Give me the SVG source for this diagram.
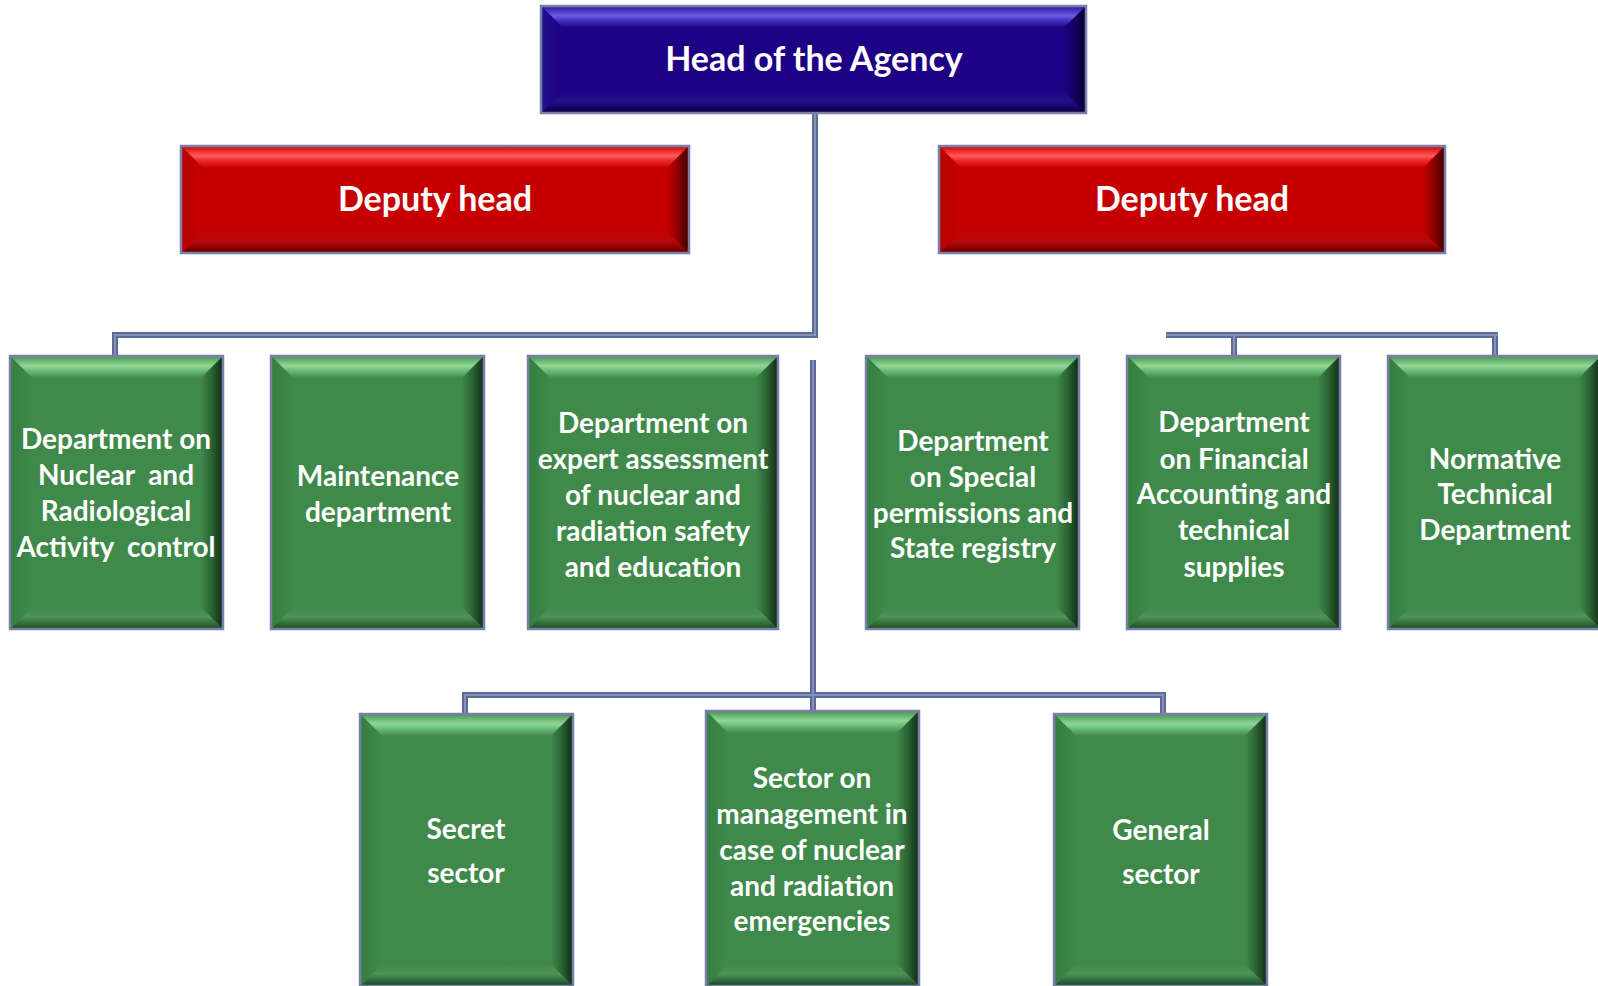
<svg xmlns="http://www.w3.org/2000/svg" width="1598" height="986" viewBox="0 0 1598 986">
<defs>
<linearGradient id="gTopG" x1="0" y1="0" x2="0" y2="1"><stop offset="0" stop-color="#4A944F"/><stop offset="0.45" stop-color="#8FD898"/><stop offset="0.65" stop-color="#6DBE78"/><stop offset="1" stop-color="#42894C"/></linearGradient>
<linearGradient id="gBotG" x1="0" y1="0" x2="0" y2="1"><stop offset="0" stop-color="#3F894A"/><stop offset="0.45" stop-color="#4E9259"/><stop offset="0.8" stop-color="#2C6534"/><stop offset="1" stop-color="#1B3F21"/></linearGradient>
<linearGradient id="gLeftG" x1="0" y1="0" x2="1" y2="0"><stop offset="0" stop-color="#347E3F"/><stop offset="1" stop-color="#3F894A"/></linearGradient>
<linearGradient id="gRightG" x1="0" y1="0" x2="1" y2="0"><stop offset="0" stop-color="#3F894A"/><stop offset="0.5" stop-color="#2A6232"/><stop offset="1" stop-color="#102A15"/></linearGradient>
<linearGradient id="gTopR" x1="0" y1="0" x2="0" y2="1"><stop offset="0" stop-color="#D20000"/><stop offset="0.45" stop-color="#FF5A5A"/><stop offset="0.65" stop-color="#F02A2A"/><stop offset="1" stop-color="#C80000"/></linearGradient>
<linearGradient id="gBotR" x1="0" y1="0" x2="0" y2="1"><stop offset="0" stop-color="#C60000"/><stop offset="0.45" stop-color="#B50A0A"/><stop offset="0.8" stop-color="#8A0000"/><stop offset="1" stop-color="#550000"/></linearGradient>
<linearGradient id="gLeftR" x1="0" y1="0" x2="1" y2="0"><stop offset="0" stop-color="#B80000"/><stop offset="1" stop-color="#C80000"/></linearGradient>
<linearGradient id="gRightR" x1="0" y1="0" x2="1" y2="0"><stop offset="0" stop-color="#C40000"/><stop offset="0.5" stop-color="#8C0000"/><stop offset="1" stop-color="#3E0000"/></linearGradient>
<linearGradient id="gTopB" x1="0" y1="0" x2="0" y2="1"><stop offset="0" stop-color="#2A149A"/><stop offset="0.45" stop-color="#6A5BE6"/><stop offset="0.65" stop-color="#4632C0"/><stop offset="1" stop-color="#1E0086"/></linearGradient>
<linearGradient id="gBotB" x1="0" y1="0" x2="0" y2="1"><stop offset="0" stop-color="#1E0084"/><stop offset="0.45" stop-color="#24108A"/><stop offset="0.8" stop-color="#130060"/><stop offset="1" stop-color="#0A0038"/></linearGradient>
<linearGradient id="gLeftB" x1="0" y1="0" x2="1" y2="0"><stop offset="0" stop-color="#22108E"/><stop offset="1" stop-color="#1E0084"/></linearGradient>
<linearGradient id="gRightB" x1="0" y1="0" x2="1" y2="0"><stop offset="0" stop-color="#1E0084"/><stop offset="0.5" stop-color="#140060"/><stop offset="1" stop-color="#070030"/></linearGradient>
<style>
.bg{fill:#3F894A}.br{fill:#C60000}.bb{fill:#1E0084}
.tg{fill:url(#gTopG)}.og{fill:url(#gBotG)}.lg{fill:url(#gLeftG)}.rg{fill:url(#gRightG)}
.tr{fill:url(#gTopR)}.or{fill:url(#gBotR)}.lr{fill:url(#gLeftR)}.rr{fill:url(#gRightR)}
.tb{fill:url(#gTopB)}.ob{fill:url(#gBotB)}.lb{fill:url(#gLeftB)}.rb{fill:url(#gRightB)}
.edge{fill:none;stroke:#7880AA;stroke-width:2.5}
.lab{font-family:Lato,"Liberation Sans",sans-serif;font-weight:bold;fill:#FFFFFF;text-anchor:middle;white-space:pre}
.big{font-size:34px}
.mid{font-size:28px}
.co{fill:none;stroke:#5E6A98;stroke-width:6;stroke-linejoin:miter}
.ci{fill:none;stroke:#8591BB;stroke-width:2;stroke-linejoin:miter}
</style>
</defs>
<rect width="1598" height="986" fill="#FFFFFF"/>

<g id="connectors">
<path class="co" d="M815 113 V335 H115 V356"/>
<path class="co" d="M813 360 V695 M465 714 V695 H1163 V714 M813 695 V711"/>
<path class="co" d="M1166 335 H1498 M1234 335 V356 M1495 335 V356"/>
<path class="ci" d="M815 113 V335 H115 V356"/>
<path class="ci" d="M813 360 V695 M465 714 V695 H1163 V714 M813 695 V711"/>
<path class="ci" d="M1166 335 H1498 M1234 335 V356 M1495 335 V356"/>
</g>

<g id="head">
<rect class="bb" x="541" y="6" width="545" height="107"/>
<polygon class="tb" points="541,6 1086,6 1064,28 563,28"/>
<polygon class="ob" points="541,113 1086,113 1064,91 563,91"/>
<polygon class="lb" points="541,6 563,28 563,91 541,113"/>
<polygon class="rb" points="1086,6 1064,28 1064,91 1086,113"/>
<rect class="edge" x="541" y="6" width="545" height="107"/>
<text class="lab big" x="814" y="71">Head of the Agency</text>
</g>

<g id="deputy-left">
<rect class="br" x="181" y="146" width="508" height="107"/>
<polygon class="tr" points="181,146 689,146 667,168 203,168"/>
<polygon class="or" points="181,253 689,253 667,231 203,231"/>
<polygon class="lr" points="181,146 203,168 203,231 181,253"/>
<polygon class="rr" points="689,146 667,168 667,231 689,253"/>
<rect class="edge" x="181" y="146" width="508" height="107"/>
<text class="lab big" x="435" y="211">Deputy head</text>
</g>

<g id="deputy-right">
<rect class="br" x="939" y="146" width="506" height="107"/>
<polygon class="tr" points="939,146 1445,146 1423,168 961,168"/>
<polygon class="or" points="939,253 1445,253 1423,231 961,231"/>
<polygon class="lr" points="939,146 961,168 961,231 939,253"/>
<polygon class="rr" points="1445,146 1423,168 1423,231 1445,253"/>
<rect class="edge" x="939" y="146" width="506" height="107"/>
<text class="lab big" x="1192" y="211">Deputy head</text>
</g>

<g id="dept-nuclear-radiological">
<rect class="bg" x="10" y="356" width="213" height="273"/>
<polygon class="tg" points="10,356 223,356 201,378 32,378"/>
<polygon class="og" points="10,629 223,629 201,607 32,607"/>
<polygon class="lg" points="10,356 32,378 32,607 10,629"/>
<polygon class="rg" points="223,356 201,378 201,607 223,629"/>
<rect class="edge" x="10" y="356" width="213" height="273"/>
<text class="lab mid" x="116"><tspan x="116" y="449">Department on</tspan><tspan x="116" y="485">Nuclear  and</tspan><tspan x="116" y="521">Radiological</tspan><tspan x="116" y="557">Activity  control</tspan></text>
</g>

<g id="maintenance">
<rect class="bg" x="271" y="356" width="213" height="273"/>
<polygon class="tg" points="271,356 484,356 462,378 293,378"/>
<polygon class="og" points="271,629 484,629 462,607 293,607"/>
<polygon class="lg" points="271,356 293,378 293,607 271,629"/>
<polygon class="rg" points="484,356 462,378 462,607 484,629"/>
<rect class="edge" x="271" y="356" width="213" height="273"/>
<text class="lab mid"><tspan x="378" y="486">Maintenance</tspan><tspan x="378" y="522">department</tspan></text>
</g>

<g id="expert-assessment">
<rect class="bg" x="528" y="356" width="250" height="273"/>
<polygon class="tg" points="528,356 778,356 756,378 550,378"/>
<polygon class="og" points="528,629 778,629 756,607 550,607"/>
<polygon class="lg" points="528,356 550,378 550,607 528,629"/>
<polygon class="rg" points="778,356 756,378 756,607 778,629"/>
<rect class="edge" x="528" y="356" width="250" height="273"/>
<text class="lab mid"><tspan x="653" y="433">Department on</tspan><tspan x="653" y="469">expert assessment</tspan><tspan x="653" y="505">of nuclear and</tspan><tspan x="653" y="541">radiation safety</tspan><tspan x="653" y="577">and education</tspan></text>
</g>

<g id="special-permissions">
<rect class="bg" x="866" y="356" width="213" height="273"/>
<polygon class="tg" points="866,356 1079,356 1057,378 888,378"/>
<polygon class="og" points="866,629 1079,629 1057,607 888,607"/>
<polygon class="lg" points="866,356 888,378 888,607 866,629"/>
<polygon class="rg" points="1079,356 1057,378 1057,607 1079,629"/>
<rect class="edge" x="866" y="356" width="213" height="273"/>
<text class="lab mid"><tspan x="973" y="451">Department</tspan><tspan x="973" y="487">on Special</tspan><tspan x="973" y="523">permissions and</tspan><tspan x="973" y="558">State registry</tspan></text>
</g>

<g id="financial-accounting">
<rect class="bg" x="1127" y="356" width="213" height="273"/>
<polygon class="tg" points="1127,356 1340,356 1318,378 1149,378"/>
<polygon class="og" points="1127,629 1340,629 1318,607 1149,607"/>
<polygon class="lg" points="1127,356 1149,378 1149,607 1127,629"/>
<polygon class="rg" points="1340,356 1318,378 1318,607 1340,629"/>
<rect class="edge" x="1127" y="356" width="213" height="273"/>
<text class="lab mid"><tspan x="1234" y="432">Department</tspan><tspan x="1234" y="469">on Financial</tspan><tspan x="1234" y="504">Accounting and</tspan><tspan x="1234" y="540">technical</tspan><tspan x="1234" y="577">supplies</tspan></text>
</g>

<g id="normative-technical">
<rect class="bg" x="1388" y="356" width="213" height="273"/>
<polygon class="tg" points="1388,356 1601,356 1579,378 1410,378"/>
<polygon class="og" points="1388,629 1601,629 1579,607 1410,607"/>
<polygon class="lg" points="1388,356 1410,378 1410,607 1388,629"/>
<polygon class="rg" points="1601,356 1579,378 1579,607 1601,629"/>
<rect class="edge" x="1388" y="356" width="213" height="273"/>
<text class="lab mid"><tspan x="1495" y="469">Normative</tspan><tspan x="1495" y="504">Technical</tspan><tspan x="1495" y="540">Department</tspan></text>
</g>

<g id="secret-sector">
<rect class="bg" x="360" y="714" width="213" height="272"/>
<polygon class="tg" points="360,714 573,714 551,736 382,736"/>
<polygon class="og" points="360,986 573,986 551,964 382,964"/>
<polygon class="lg" points="360,714 382,736 382,964 360,986"/>
<polygon class="rg" points="573,714 551,736 551,964 573,986"/>
<rect class="edge" x="360" y="714" width="213" height="272"/>
<text class="lab mid"><tspan x="466" y="839">Secret</tspan><tspan x="466" y="883">sector</tspan></text>
</g>

<g id="emergency-sector">
<rect class="bg" x="706" y="711" width="213" height="275"/>
<polygon class="tg" points="706,711 919,711 897,733 728,733"/>
<polygon class="og" points="706,986 919,986 897,964 728,964"/>
<polygon class="lg" points="706,711 728,733 728,964 706,986"/>
<polygon class="rg" points="919,711 897,733 897,964 919,986"/>
<rect class="edge" x="706" y="711" width="213" height="275"/>
<text class="lab mid"><tspan x="812" y="788">Sector on</tspan><tspan x="812" y="824">management in</tspan><tspan x="812" y="860">case of nuclear</tspan><tspan x="812" y="896">and radiation</tspan><tspan x="812" y="931">emergencies</tspan></text>
</g>

<g id="general-sector">
<rect class="bg" x="1054" y="714" width="213" height="272"/>
<polygon class="tg" points="1054,714 1267,714 1245,736 1076,736"/>
<polygon class="og" points="1054,986 1267,986 1245,964 1076,964"/>
<polygon class="lg" points="1054,714 1076,736 1076,964 1054,986"/>
<polygon class="rg" points="1267,714 1245,736 1245,964 1267,986"/>
<rect class="edge" x="1054" y="714" width="213" height="272"/>
<text class="lab mid"><tspan x="1161" y="840">General</tspan><tspan x="1161" y="884">sector</tspan></text>
</g>
</svg>
